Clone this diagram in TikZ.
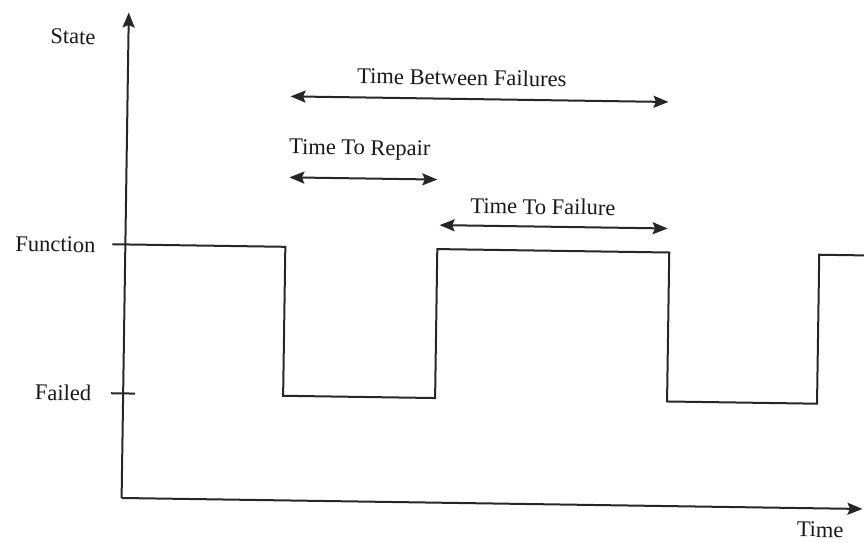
\documentclass[tikz,border=0pt]{standalone}
\usepackage{fontspec}
\setmainfont{Liberation Serif}
\usetikzlibrary{arrows.meta}
\begin{document}
\begin{tikzpicture}[x=1pt,y=-1pt,
  ink/.style={draw=black!85,line width=2pt},
  tip/.tip={Stealth[length=15pt,width=12pt,inset=2.5pt]},
  axisline/.style={ink,-tip},
  span/.style={ink,tip-tip},
  wave/.style={ink,line join=miter},
  lbl/.style={font=\fontsize{22.5}{26}\selectfont,text=black!90,inner sep=0pt}]
\useasboundingbox (0,0) rectangle (864,543);
\begin{scope}[rotate around={-0.85:(432,271)},every node/.append style={transform shape}]
  % axes
  \coordinate (O) at (125,502.6);
  \coordinate (ytip) at (125,17);
  \coordinate (xtip) at (866,502.6);
  \draw[axisline] (O) -- (ytip);
  \draw[axisline] (O) -- (xtip);
  % level ticks
  \coordinate (fnL) at (112,249);
  \coordinate (fnA) at (125,249);
  \coordinate (faL) at (113,398);
  \coordinate (faR) at (137,398);
  \draw[ink] (fnL) -- (fnA);
  \draw[ink] (faL) -- (faR);
  % state waveform
  \coordinate (d1) at (285,249);
  \coordinate (d1b) at (285,398);
  \coordinate (u1b) at (437,398);
  \coordinate (u1) at (437,249);
  \coordinate (d2) at (669,249);
  \coordinate (d2b) at (669,398);
  \coordinate (u2b) at (819,398);
  \coordinate (u2) at (819,249);
  \coordinate (wend) at (880,249);
  \draw[wave] (fnA) -- (d1) -- (d1b) -- (u1b) -- (u1) -- (d2) -- (d2b) -- (u2b) -- (u2) -- (wend);
  % interval spans
  \coordinate (tbfL) at (288,98.5);
  \coordinate (tbfR) at (666,98.5);
  \coordinate (ttrL) at (288,179.5);
  \coordinate (ttrR) at (436,179.5);
  \coordinate (ttfL) at (439,225);
  \coordinate (ttfR) at (667,225);
  \draw[span] (tbfL) -- (tbfR);
  \draw[span] (ttrL) -- (ttrR);
  \draw[span] (ttfL) -- (ttfR);
  % labels
  \node[lbl] (state) at (69.5,42) {State};
  \node[lbl] (function) at (55,250) {Function};
  \node[lbl] (failed) at (65,398) {Failed};
  \node[lbl] (time) at (824,524) {Time};
  \node[lbl] (tbf) at (459,77) {Time Between Failures};
  \node[lbl] (ttr) at (358,151) {Time To Repair};
  \node[lbl] (ttf) at (542,205) {Time To Failure};
\end{scope}
\end{tikzpicture}
\end{document}
